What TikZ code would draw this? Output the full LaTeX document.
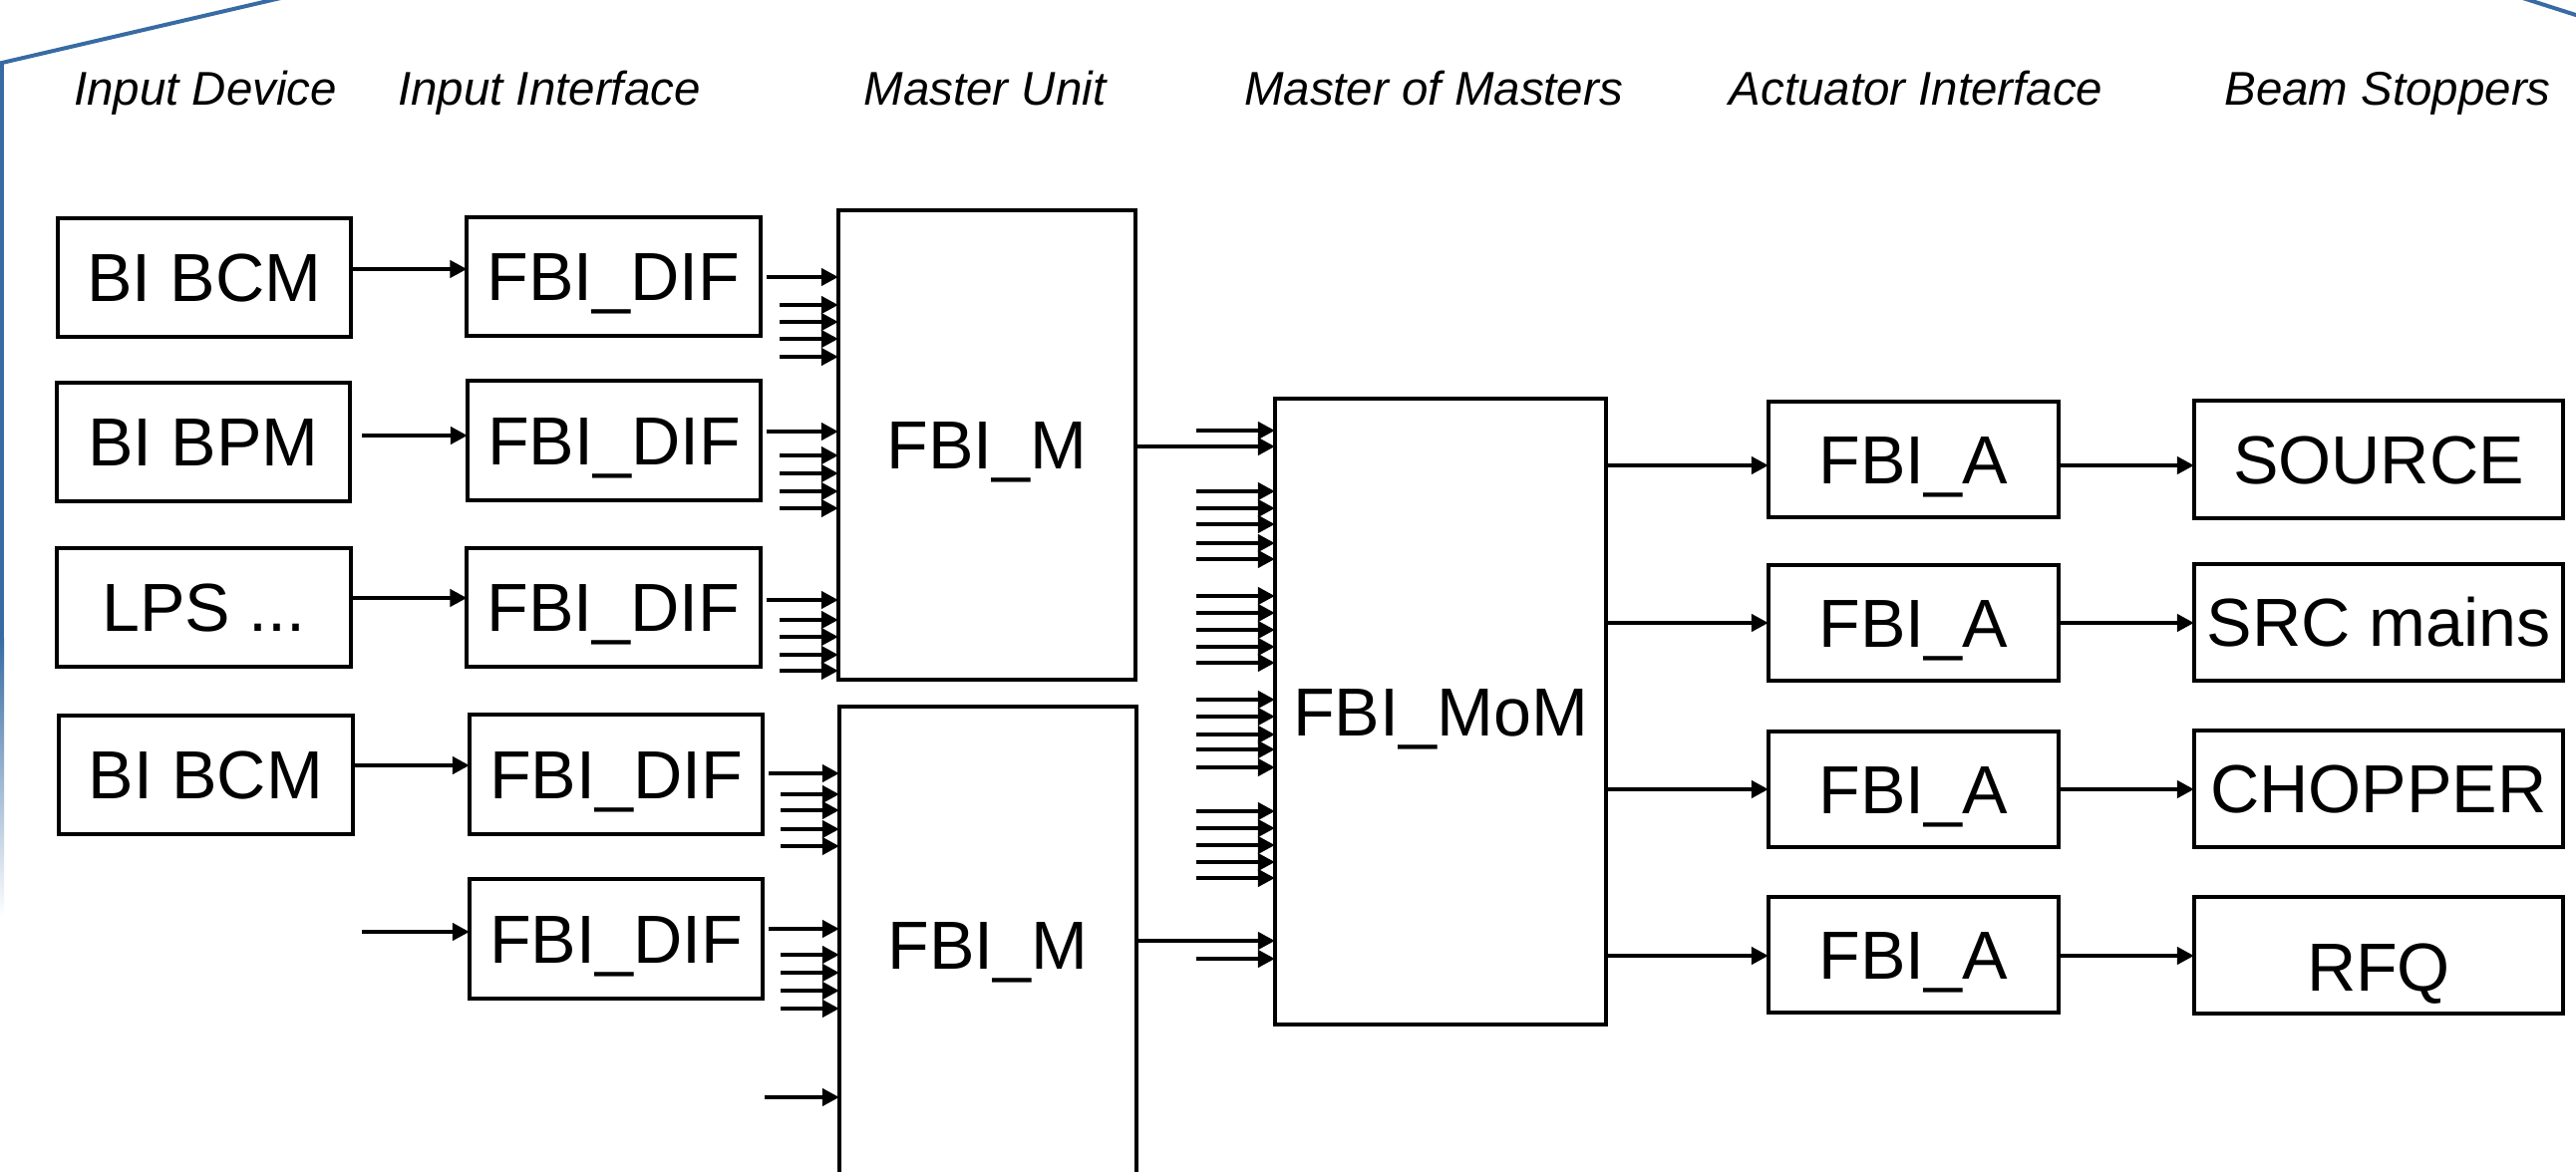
\documentclass[tikz,border=0pt]{standalone}
\usepackage{fontspec}
\setmainfont{Liberation Sans}
\usetikzlibrary{arrows.meta}
\definecolor{blueframe}{RGB}{56,107,163}
\newcommand{\boxfont}{\fontsize{19.4pt}{23pt}\selectfont}
\newcommand{\hdrfont}{\fontsize{13.5pt}{16pt}\selectfont\itshape}
\begin{document}
\begin{tikzpicture}[x=0.01cm,y=-0.01cm,
  box/.style={draw, line width=1.13pt, inner sep=0pt, outer sep=0pt, font=\boxfont, align=center, text height=13.9pt, text depth=0pt},
  smallbox/.style={box, minimum width=2.94cm, minimum height=1.19cm},
  abox/.style={box, minimum width=2.91cm, minimum height=1.16cm},
  sbox/.style={box, minimum width=3.70cm, minimum height=1.17cm},
  arr/.style={line width=1.15pt, -{Triangle[length=0.17cm,width=0.17cm]}},
  hdr/.style={font=\hdrfont, anchor=base, inner sep=0pt},
  frame/.style={blueframe, line width=1.13pt}]
\useasboundingbox (0,0) rectangle (2584,1176);
\fill[white] (0,0) rectangle (2584,1176);
\clip (0,0) rectangle (2584,1176);

% blue frame fragments
\draw[frame] (2,640) -- (2,63) -- (273,0) -- (360,-20);
\shade[top color=blueframe, bottom color=white] (0,640) rectangle (4,920);
\draw[frame] (2490,-15) -- (2640,33);

% headers
\node[hdr] (h1) at (206,106) {Input Device};
\node[hdr] (h2) at (551,106) {Input Interface};
\node[hdr] (h3) at (988,106) {Master Unit};
\node[hdr] (h4) at (1438,106) {Master of Masters};
\node[hdr] (h5) at (1922,106) {Actuator Interface};
\node[hdr] (h6) at (2395,106) {Beam Stoppers};

% input devices
\node[smallbox] (dev1) at (205,278.5) {BI BCM};
\node[smallbox] (dev2) at (204,443.5) {BI BPM};
\node[smallbox] (dev3) at (204.5,609.5) {LPS ...};
\node[smallbox] (dev4) at (206.5,777.5) {BI BCM};

% input interfaces
\node[smallbox] (dif1) at (615.5,277.5) {FBI\_DIF};
\node[smallbox] (dif2) at (616,442) {FBI\_DIF};
\node[smallbox] (dif3) at (615.5,609.5) {FBI\_DIF};
\node[smallbox] (dif4) at (618,777) {FBI\_DIF};
\node[smallbox] (dif5) at (618,942) {FBI\_DIF};

% master units
\node[box, minimum width=2.98cm, minimum height=4.71cm] (M1) at (990,446.5) {FBI\_M};
\node[box, minimum width=2.98cm, minimum height=4.78cm] (M2) at (991,948) {FBI\_M};

% master of masters
\node[box, minimum width=3.32cm, minimum height=6.28cm] (MoM) at (1445,714) {FBI\_MoM};

% actuator interfaces
\node[abox] (A1) at (1919.5,461) {FBI\_A};
\node[abox] (A2) at (1919.5,625) {FBI\_A};
\node[abox] (A3) at (1919.5,792) {FBI\_A};
\node[abox] (A4) at (1919.5,958) {FBI\_A};

% beam stoppers
\node[sbox] (S1) at (2386,461) {SOURCE};
\node[sbox] (S2) at (2386,624.5) {SRC mains};
\node[sbox] (S3) at (2386,791.5) {CHOPPER};
\node[sbox] (S4) at (2386,958.5) {\raisebox{-0.12cm}{RFQ}};

% device -> interface
\coordinate (in2) at (363,437);
\coordinate (in5) at (363,935);
\draw[arr] (dev1.east |- 0,270) -- (dif1.west |- 0,270);
\draw[arr] (in2) -- (dif2.west |- in2);
\draw[arr] (dev3.east |- 0,600) -- (dif3.west |- 0,600);
\draw[arr] (dev4.east |- 0,768) -- (dif4.west |- 0,768);
\draw[arr] (in5) -- (dif5.west |- in5);

% interface -> master units (main lines)
\draw[arr, shorten <=0.06cm] (dif1.east |- 0,278) -- (M1.west |- 0,278);
\draw[arr, shorten <=0.06cm] (dif2.east |- 0,433) -- (M1.west |- 0,433);
\draw[arr, shorten <=0.06cm] (dif3.east |- 0,602) -- (M1.west |- 0,602);
\draw[arr, shorten <=0.06cm] (dif4.east |- 0,776) -- (M2.west |- 0,776);
\draw[arr, shorten <=0.06cm] (dif5.east |- 0,932) -- (M2.west |- 0,932);

% bundles into master units
\foreach \yy [count=\i] in {306,323,340,358,457,475,493,510,622,639,657,673} {
  \coordinate (ba\i) at (782,\yy);
  \draw[arr] (ba\i) -- (M1.west |- ba\i);
}
\foreach \yy [count=\i] in {797,813,832,849,958,976,994,1012} {
  \coordinate (bb\i) at (783,\yy);
  \draw[arr] (bb\i) -- (M2.west |- bb\i);
}
\coordinate (lone) at (767,1101);
\draw[arr] (lone) -- (M2.west |- lone);

% master units -> MoM
\draw[arr] (M1.east |- 0,448) -- (MoM.west |- 0,448);
\draw[arr] (M2.east |- 0,944) -- (MoM.west |- 0,944);
\foreach \yy [count=\i] in {432,493,510,526,545,561,598,615,632,649,665,702,719,737,752,770,814,831,848,865,881,962} {
  \coordinate (bc\i) at (1200,\yy);
  \draw[arr] (bc\i) -- (MoM.west |- bc\i);
}

% MoM -> actuators -> stoppers
\draw[arr] (MoM.east |- 0,467) -- (A1.west |- 0,467);
\draw[arr] (MoM.east |- 0,625) -- (A2.west |- 0,625);
\draw[arr] (MoM.east |- 0,792) -- (A3.west |- 0,792);
\draw[arr] (MoM.east |- 0,959) -- (A4.west |- 0,959);
\draw[arr] (A1.east |- 0,467) -- (S1.west |- 0,467);
\draw[arr] (A2.east |- 0,625) -- (S2.west |- 0,625);
\draw[arr] (A3.east |- 0,792) -- (S3.west |- 0,792);
\draw[arr] (A4.east |- 0,959) -- (S4.west |- 0,959);
\end{tikzpicture}
\end{document}
